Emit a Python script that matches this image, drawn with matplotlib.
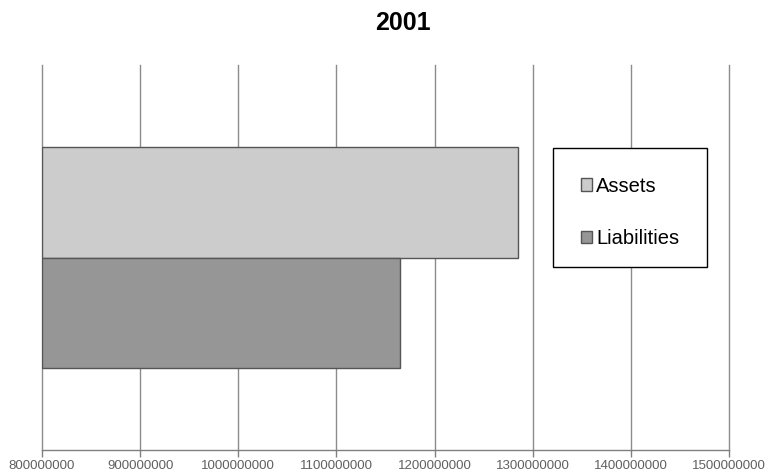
import matplotlib.pyplot as plt
import matplotlib.ticker as mticker
from matplotlib.patches import Rectangle

plt.rcParams['font.family'] = ['Liberation Sans', 'DejaVu Sans']

# balance sheet totals for the year
year = "2001"
series = ["Assets", "Liabilities"]
values = [1285000000, 1165000000]
colors = ["#cccccc", "#969696"]
x_ticks = [800000000, 900000000, 1000000000, 1100000000,
           1200000000, 1300000000, 1400000000, 1500000000]

fig = plt.figure(figsize=(7.66, 4.75), dpi=100)
ax = fig.add_axes([0.0548, 0.0526, 0.8969, 0.8105])

bar_h = 0.286
base = x_ticks[0]
# one category, series stacked top to bottom around its centre
offsets = [0.5 + bar_h / 2, 0.5 - bar_h / 2]
for name, val, col, y in zip(series, values, colors, offsets):
    ax.barh(y, val - base, left=base, height=bar_h, color=col,
            edgecolor="#555555", linewidth=1.0, label=name, zorder=3)

ax.set_xlim(x_ticks[0], x_ticks[-1])
ax.set_ylim(0, 1)
ax.set_xticks(x_ticks)
ax.xaxis.set_major_formatter(mticker.FuncFormatter(lambda v, p: f"{int(v)}"))
ax.set_yticks([])
ax.tick_params(axis="x", direction="out", length=5, width=1, color="#808080",
               labelsize=9.5, labelcolor="#606060", pad=2)

ax.grid(axis="x", color="#8c8c8c", linewidth=1.0, zorder=0)
for gl in ax.get_xgridlines():
    gl.set_clip_on(False)
for side in ("top", "right", "left"):
    ax.spines[side].set_visible(False)
ax.spines["bottom"].set_color("#808080")
ax.spines["bottom"].set_linewidth(1.0)

fig.suptitle(year, x=0.526, y=0.976, fontsize=18, fontweight="bold")

# legend box
box = (0.744, 0.475, 0.224, 0.309)
ax.add_patch(Rectangle(box[:2], box[2], box[3], transform=ax.transAxes,
                       facecolor="white", edgecolor="#000000", linewidth=1.0,
                       zorder=4, clip_on=False))
leg = ax.legend(loc="center", bbox_to_anchor=(box[0], box[1] - 0.012, box[2], box[3]),
                fontsize=14.5, frameon=False, handlelength=0.55,
                handleheight=0.55, handletextpad=0.2, labelspacing=1.65,
                borderaxespad=0)
leg.set_zorder(5)
for h in leg.legend_handles:
    h.set_edgecolor("#555555")

fig.savefig("out.png", dpi=100)
